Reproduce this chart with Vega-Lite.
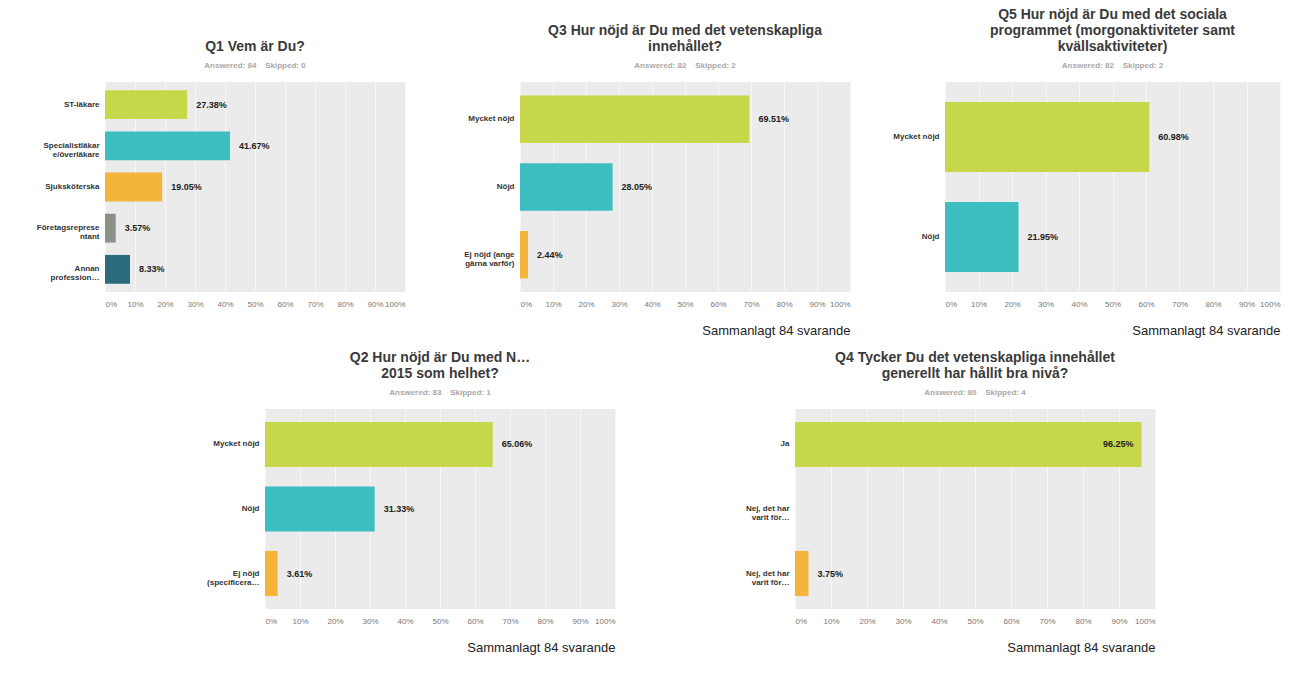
{
  "$schema": "https://vega.github.io/schema/vega-lite/v6.json",
  "background": "#ffffff",
  "padding": {"left": 5, "right": 5, "top": 8, "bottom": 5},
  "data": {
    "values": [
      {"q": "Q1", "pos": 1, "option": "ST-läkare", "pct": 0.2738},
      {"q": "Q1", "pos": 2, "option": "Specialistläkar|e/överläkare", "pct": 0.4167},
      {"q": "Q1", "pos": 3, "option": "Sjuksköterska", "pct": 0.1905},
      {"q": "Q1", "pos": 4, "option": "Företagsreprese|ntant", "pct": 0.0357},
      {"q": "Q1", "pos": 5, "option": "Annan|profession…", "pct": 0.0833},
      {"q": "Q2", "pos": 1, "option": "Mycket nöjd", "pct": 0.6506},
      {"q": "Q2", "pos": 2, "option": "Nöjd", "pct": 0.3133},
      {"q": "Q2", "pos": 3, "option": "Ej nöjd|(specificera…", "pct": 0.0361},
      {"q": "Q3", "pos": 1, "option": "Mycket nöjd", "pct": 0.6951},
      {"q": "Q3", "pos": 2, "option": "Nöjd", "pct": 0.2805},
      {"q": "Q3", "pos": 3, "option": "Ej nöjd (ange|gärna varför)", "pct": 0.0244},
      {"q": "Q4", "pos": 1, "option": "Ja", "pct": 0.9625},
      {"q": "Q4", "pos": 2, "option": "Nej, det har|varit för…", "pct": 0},
      {"q": "Q4", "pos": 3, "option": "Nej, det har|varit för… ", "pct": 0.0375},
      {"q": "Q5", "pos": 1, "option": "Mycket nöjd", "pct": 0.6098},
      {"q": "Q5", "pos": 2, "option": "Nöjd", "pct": 0.2195}
    ]
  },
  "vconcat": [
    {
      "hconcat": [
        {
          "title": {"text": ["Q1 Vem är Du?"], "subtitle": "Answered: 84\u00a0\u00a0\u00a0\u00a0Skipped: 0"},
          "width": 300, "height": 210,
          "transform": [{"filter": "datum.q === 'Q1'"}],
          "encoding": {
            "y": {"field": "option", "type": "nominal", "sort": null, "title": null,
                  "scale": {"paddingInner": 0.3, "paddingOuter": 0.2},
                  "axis": {"labelExpr": "split(datum.label, '|')", "minExtent": 100}},
            "x": {"field": "pct", "type": "quantitative", "scale": {"domain": [0, 1]}, "title": null}
          },
          "layer": [
            {"mark": {"type": "bar"},
             "encoding": {"color": {"field": "pos", "type": "ordinal", "legend": null,
               "scale": {"domain": [1, 2, 3, 4, 5], "range": ["#c6d84a", "#3dbfc1", "#f3b53c", "#8b9189", "#2c6a7e"]}}}},
            {"transform": [{"filter": "datum.pct > 0 && datum.pct < 0.9"}],
             "mark": {"type": "text", "align": "left", "dx": 9, "fontSize": 9, "fontWeight": "bold", "color": "#222", "font": "Liberation Sans"},
             "encoding": {"text": {"field": "pct", "type": "quantitative", "format": ".2%"}}}
          ]
        },
        {
          "title": {"text": ["Q3 Hur nöjd är Du med det vetenskapliga", "innehållet?"], "subtitle": "Answered: 82\u00a0\u00a0\u00a0\u00a0Skipped: 2"},
          "width": 330, "height": 210,
          "transform": [{"filter": "datum.q === 'Q3'"}],
          "encoding": {
            "y": {"field": "option", "type": "nominal", "sort": null, "title": null,
                  "scale": {"paddingInner": 0.3, "paddingOuter": 0.2},
                  "axis": {"labelExpr": "split(datum.label, '|')", "minExtent": 85}},
            "x": {"field": "pct", "type": "quantitative", "scale": {"domain": [0, 1]},
                  "title": "Sammanlagt 84 svarande"}
          },
          "layer": [
            {"mark": {"type": "bar"},
             "encoding": {"color": {"field": "pos", "type": "ordinal", "legend": null,
               "scale": {"domain": [1, 2, 3, 4, 5], "range": ["#c6d84a", "#3dbfc1", "#f3b53c", "#8b9189", "#2c6a7e"]}}}},
            {"transform": [{"filter": "datum.pct > 0 && datum.pct < 0.9"}],
             "mark": {"type": "text", "align": "left", "dx": 9, "fontSize": 9, "fontWeight": "bold", "color": "#222", "font": "Liberation Sans"},
             "encoding": {"text": {"field": "pct", "type": "quantitative", "format": ".2%"}}}
          ]
        },
        {
          "title": {"text": ["Q5 Hur nöjd är Du med det sociala", "programmet (morgonaktiviteter samt", "kvällsaktiviteter)"], "subtitle": "Answered: 82\u00a0\u00a0\u00a0\u00a0Skipped: 2"},
          "width": 335, "height": 210,
          "transform": [{"filter": "datum.q === 'Q5'"}],
          "encoding": {
            "y": {"field": "option", "type": "nominal", "sort": null, "title": null,
                  "scale": {"paddingInner": 0.3, "paddingOuter": 0.2},
                  "axis": {"labelExpr": "split(datum.label, '|')", "minExtent": 65}},
            "x": {"field": "pct", "type": "quantitative", "scale": {"domain": [0, 1]},
                  "title": "Sammanlagt 84 svarande"}
          },
          "layer": [
            {"mark": {"type": "bar"},
             "encoding": {"color": {"field": "pos", "type": "ordinal", "legend": null,
               "scale": {"domain": [1, 2, 3, 4, 5], "range": ["#c6d84a", "#3dbfc1", "#f3b53c", "#8b9189", "#2c6a7e"]}}}},
            {"transform": [{"filter": "datum.pct > 0 && datum.pct < 0.9"}],
             "mark": {"type": "text", "align": "left", "dx": 9, "fontSize": 9, "fontWeight": "bold", "color": "#222", "font": "Liberation Sans"},
             "encoding": {"text": {"field": "pct", "type": "quantitative", "format": ".2%"}}}
          ]
        }
      ],
      "spacing": 30
    },
    {
      "hconcat": [
        {
          "width": 1, "height": 200,
          "view": {"fill": "#ffffff", "stroke": null},
          "transform": [{"filter": "false"}],
          "mark": "point",
          "encoding": {}
        },
        {
          "title": {"text": ["Q2 Hur nöjd är Du med N…", "2015 som helhet?"], "subtitle": "Answered: 83\u00a0\u00a0\u00a0\u00a0Skipped: 1"},
          "width": 350, "height": 200,
          "transform": [{"filter": "datum.q === 'Q2'"}],
          "encoding": {
            "y": {"field": "option", "type": "nominal", "sort": null, "title": null,
                  "scale": {"paddingInner": 0.3, "paddingOuter": 0.2},
                  "axis": {"labelExpr": "split(datum.label, '|')", "minExtent": 55}},
            "x": {"field": "pct", "type": "quantitative", "scale": {"domain": [0, 1]},
                  "title": "Sammanlagt 84 svarande"}
          },
          "layer": [
            {"mark": {"type": "bar"},
             "encoding": {"color": {"field": "pos", "type": "ordinal", "legend": null,
               "scale": {"domain": [1, 2, 3, 4, 5], "range": ["#c6d84a", "#3dbfc1", "#f3b53c", "#8b9189", "#2c6a7e"]}}}},
            {"transform": [{"filter": "datum.pct > 0 && datum.pct < 0.9"}],
             "mark": {"type": "text", "align": "left", "dx": 9, "fontSize": 9, "fontWeight": "bold", "color": "#222", "font": "Liberation Sans"},
             "encoding": {"text": {"field": "pct", "type": "quantitative", "format": ".2%"}}}
          ]
        },
        {
          "title": {"text": ["Q4 Tycker Du det vetenskapliga innehållet", "generellt har hållit bra nivå?"], "subtitle": "Answered: 80\u00a0\u00a0\u00a0\u00a0Skipped: 4"},
          "width": 360, "height": 200,
          "transform": [{"filter": "datum.q === 'Q4'"}],
          "encoding": {
            "y": {"field": "option", "type": "nominal", "sort": null, "title": null,
                  "scale": {"paddingInner": 0.3, "paddingOuter": 0.2},
                  "axis": {"labelExpr": "split(datum.label, '|')", "minExtent": 80}},
            "x": {"field": "pct", "type": "quantitative", "scale": {"domain": [0, 1]},
                  "title": "Sammanlagt 84 svarande"}
          },
          "layer": [
            {"mark": {"type": "bar"},
             "encoding": {"color": {"field": "pos", "type": "ordinal", "legend": null,
               "scale": {"domain": [1, 2, 3, 4, 5], "range": ["#c6d84a", "#3dbfc1", "#f3b53c", "#8b9189", "#2c6a7e"]}}}},
            {"transform": [{"filter": "datum.pct > 0 && datum.pct < 0.9"}],
             "mark": {"type": "text", "align": "left", "dx": 9, "fontSize": 9, "fontWeight": "bold", "color": "#222", "font": "Liberation Sans"},
             "encoding": {"text": {"field": "pct", "type": "quantitative", "format": ".2%"}}},
            {"transform": [{"filter": "datum.pct >= 0.9"}],
             "mark": {"type": "text", "align": "right", "dx": -8, "fontSize": 9, "fontWeight": "bold", "color": "#222", "font": "Liberation Sans"},
             "encoding": {"text": {"field": "pct", "type": "quantitative", "format": ".2%"}}}
          ]
        }
      ],
      "spacing": 100
    }
  ],
  "spacing": 14,
  "config": {
    "font": "Liberation Sans",
    "view": {"fill": "#ebebeb", "stroke": null},
    "title": {"fontSize": 14, "fontWeight": "bold", "color": "#3a3a3a", "anchor": "middle",
              "subtitleFontSize": 8, "subtitleColor": "#a8a8a8", "subtitleFontWeight": "bold",
              "subtitlePadding": 8, "offset": 12, "lineHeight": 16},
    "axis": {"domain": false, "ticks": false, "labelFont": "Liberation Sans"},
    "axisY": {"grid": false, "labelFontWeight": "bold", "labelColor": "#333", "labelFontSize": 8,
              "labelPadding": 6, "labelLineHeight": 9, "labelLimit": 200},
    "axisX": {"grid": true, "gridColor": "#f7f7f7", "gridWidth": 1,
              "values": [0, 0.1, 0.2, 0.3, 0.4, 0.5, 0.6, 0.7, 0.8, 0.9, 1], "format": ".0%",
              "labelColor": "#777", "labelFontSize": 8, "labelPadding": 8,
              "titleAnchor": "end", "titleFontSize": 13, "titleFontWeight": "normal",
              "titleColor": "#222", "titlePadding": 16}
  }
}
